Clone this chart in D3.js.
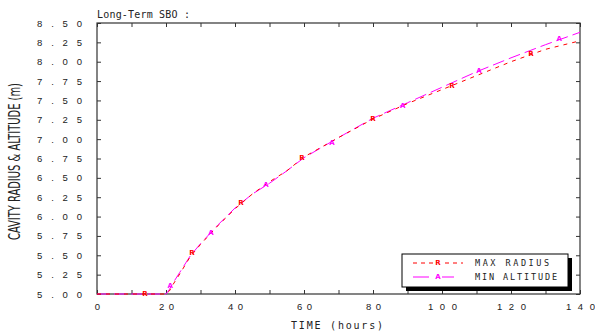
<!DOCTYPE html>
<html>
<head>
<meta charset="utf-8">
<script src="https://cdn.jsdelivr.net/npm/d3@7"></script>
<style>
  body { margin: 0; background: #fff; }
  svg { display: block; }
</style>
</head>
<body>
<div id="chart"></div>
<script>
// values
const hours = [0, 10, 20, 21, 22, 24, 27, 30, 35, 40, 45, 50, 55, 60, 70, 80, 90, 100, 110, 120, 130, 140];
const maxRadius = [5.00, 5.00, 5.00, 5.04, 5.12, 5.26, 5.48, 5.64, 5.88, 6.10, 6.29, 6.45, 6.59, 6.77, 7.02, 7.26, 7.46, 7.64, 7.82, 8.00, 8.16, 8.27];
const minAltitude = [5.00, 5.00, 5.00, 5.06, 5.14, 5.28, 5.49, 5.65, 5.89, 6.11, 6.29, 6.43, 6.59, 6.76, 7.02, 7.27, 7.47, 7.67, 7.87, 8.05, 8.22, 8.38];

// symbol positions along each curve
const radiusMarkT = [13.9, 27.5, 41.7, 59.4, 80.0, 102.9, 125.8];
const radiusMarkV = [5.00, 5.53, 6.18, 6.76, 7.26, 7.69, 8.10];
const altMarkT = [21.2, 33.0, 49.0, 68.1, 88.6, 110.7, 134.0];
const altMarkV = [5.11, 5.79, 6.41, 6.95, 7.44, 7.89, 8.30];

const xTicks = d3.range(0, 141, 10);
const yTicks = d3.range(5, 8.51, 0.25);
const seriesNames = ["MAX RADIUS", "MIN ALTITUDE"];

const width = 595, height = 333;
const plotLeft = 97, plotRight = 580, plotTop = 23, plotBottom = 294;

const svg = d3.select("#chart").append("svg")
  .attr("width", width)
  .attr("height", height)
  .style("font-family", "'DejaVu Sans Mono', monospace");

const x = d3.scaleLinear().domain([0, 140]).range([plotLeft, plotRight]);
const y = d3.scaleLinear().domain([5, 8.5]).range([plotBottom, plotTop]);

const frameColor = "#333";

// axes with inward ticks
const xAxis = svg.append("g")
  .attr("transform", "translate(0," + plotBottom + ")")
  .call(d3.axisBottom(x).tickValues(xTicks).tickSize(-4).tickPadding(9)
    .tickFormat(d => d % 20 === 0 ? d : ""));
xAxis.selectAll("text")
  .attr("font-size", 9.5)
  .each(function(d) {
    const n = String(d).length;
    if (n > 1 && d % 20 === 0) {
      d3.select(this).attr("textLength", n === 2 ? 15 : 29).attr("lengthAdjust", "spacing");
    }
  });

const yAxis = svg.append("g")
  .attr("transform", "translate(" + plotLeft + ",0)")
  .call(d3.axisLeft(y).tickValues(yTicks).tickSize(-4).tickPadding(15)
    .tickFormat(d3.format(".2f")));
yAxis.selectAll("text")
  .attr("font-size", 9.5)
  .attr("textLength", 45)
  .attr("lengthAdjust", "spacing");

svg.append("g")
  .attr("transform", "translate(0," + plotTop + ")")
  .call(d3.axisTop(x).tickValues(xTicks).tickSize(-4).tickFormat(""));
svg.append("g")
  .attr("transform", "translate(" + plotRight + ",0)")
  .call(d3.axisRight(y).tickValues(yTicks).tickSize(-4).tickFormat(""));

svg.selectAll(".domain").remove();
svg.selectAll(".tick line").attr("stroke", frameColor);
svg.selectAll(".tick text").attr("fill", "#222");

svg.append("rect")
  .attr("x", plotLeft).attr("y", plotTop)
  .attr("width", plotRight - plotLeft).attr("height", plotBottom - plotTop)
  .attr("fill", "none").attr("stroke", frameColor).attr("stroke-width", 1.2);

// curves
const line = d3.line()
  .x((d, i) => x(hours[i]))
  .y(d => y(d));

svg.append("path")
  .datum(minAltitude)
  .attr("fill", "none")
  .attr("stroke", "#ff00ff")
  .attr("stroke-width", 1)
  .attr("stroke-dasharray", "12,5")
  .attr("d", line);

svg.append("path")
  .datum(maxRadius)
  .attr("fill", "none")
  .attr("stroke", "#ff0000")
  .attr("stroke-width", 1)
  .attr("stroke-dasharray", "4,5")
  .attr("d", line);

function marks(ts, vs, letter, color) {
  svg.append("g").selectAll("text")
    .data(ts)
    .join("text")
    .attr("x", d => x(d))
    .attr("y", (d, i) => y(vs[i]))
    .attr("dy", "0.35em")
    .attr("text-anchor", "middle")
    .attr("font-family", "'DejaVu Sans', sans-serif")
    .attr("font-size", 7)
    .attr("font-weight", "bold")
    .attr("fill", color)
    .text(letter);
}
marks(radiusMarkT, radiusMarkV, "R", "#ff0000");
marks(altMarkT, altMarkV, "A", "#ff00ff");

// titles
svg.append("text")
  .attr("x", 97).attr("y", 18)
  .attr("font-size", 10)
  .attr("textLength", 93)
  .attr("lengthAdjust", "spacing")
  .attr("fill", "#222")
  .text("Long-Term SBO :");

svg.append("text")
  .attr("x", 291).attr("y", 329)
  .attr("font-size", 10)
  .attr("textLength", 92)
  .attr("lengthAdjust", "spacing")
  .attr("fill", "#222")
  .text("TIME (hours)");

svg.append("text")
  .attr("transform", "translate(20,240) rotate(-90)")
  .attr("font-family", "'Liberation Sans Narrow', 'DejaVu Sans Condensed', sans-serif")
  .attr("font-size", 15)
  .attr("textLength", 157)
  .attr("lengthAdjust", "spacingAndGlyphs")
  .attr("fill", "#222")
  .text("CAVITY RADIUS & ALTITUDE (m)");

// legend
const lg = svg.append("g");
lg.append("rect")
  .attr("x", 406).attr("y", 258).attr("width", 166).attr("height", 33)
  .attr("fill", "#000");
lg.append("rect")
  .attr("x", 402).attr("y", 254).attr("width", 166).attr("height", 33)
  .attr("fill", "#fff").attr("stroke", "#000").attr("stroke-width", 1);

const legendRows = [
  { name: seriesNames[0], color: "#ff0000", dash: "4,4", letter: "R", y: 263 },
  { name: seriesNames[1], color: "#ff00ff", dash: "16,9", letter: "A", y: 277 }
];
legendRows.forEach(r => {
  lg.append("line")
    .attr("x1", 413).attr("x2", 463).attr("y1", r.y).attr("y2", r.y)
    .attr("stroke", r.color).attr("stroke-dasharray", r.dash);
  lg.append("rect")
    .attr("x", 434).attr("y", r.y - 4).attr("width", 8).attr("height", 8)
    .attr("fill", "#fff");
  lg.append("text")
    .attr("x", 438).attr("y", r.y).attr("dy", "0.35em")
    .attr("text-anchor", "middle")
    .attr("font-family", "'DejaVu Sans', sans-serif")
    .attr("font-size", 7).attr("font-weight", "bold")
    .attr("fill", r.color).text(r.letter);
  lg.append("text")
    .attr("x", 475).attr("y", r.y).attr("dy", "0.35em")
    .attr("font-size", 8.5)
    .attr("textLength", r.name.length > 10 ? 82 : 74)
    .attr("lengthAdjust", "spacing")
    .attr("fill", "#222")
    .text(r.name);
});
</script>
</body>
</html>
